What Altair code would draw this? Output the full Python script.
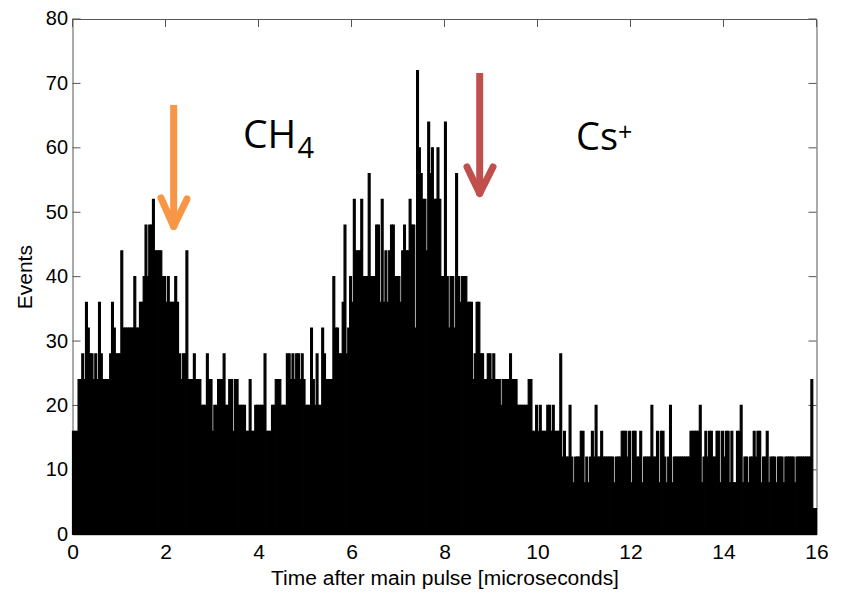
import altair as alt
import pandas as pd

# Histogram: counts per 0.04 microsecond bin, 25 bins per microsecond
BIN_US = 0.04
us_00 = [16, 16, 16, 24, 24, 28, 24, 36, 32, 28, 28, 24, 28, 24, 36, 28, 24, 24, 24, 24, 28, 36, 32, 28, 28]
us_01 = [28, 44, 32, 32, 32, 32, 32, 32, 40, 32, 32, 36, 36, 40, 48, 40, 48, 48, 52, 44, 44, 44, 44, 40, 40]
us_02 = [36, 40, 36, 36, 36, 40, 36, 28, 24, 28, 28, 44, 24, 24, 24, 28, 24, 24, 24, 20, 20, 20, 28, 24, 24]
us_03 = [16, 20, 20, 24, 24, 24, 28, 20, 20, 24, 24, 16, 24, 24, 20, 20, 20, 20, 16, 16, 24, 16, 16, 20, 20]
us_04 = [20, 20, 20, 28, 16, 16, 16, 20, 20, 24, 24, 24, 20, 20, 20, 28, 28, 24, 28, 24, 28, 28, 24, 28, 24]
us_05 = [20, 20, 20, 32, 24, 20, 28, 20, 20, 32, 28, 24, 24, 24, 24, 40, 32, 32, 28, 28, 36, 48, 28, 32, 40]
us_06 = [36, 52, 44, 44, 44, 52, 40, 40, 40, 56, 40, 40, 40, 48, 48, 36, 52, 36, 44, 36, 44, 48, 48, 40, 40]
us_07 = [40, 36, 44, 48, 44, 44, 52, 48, 48, 32, 72, 60, 56, 52, 52, 44, 64, 56, 60, 52, 52, 60, 52, 40, 40]
us_08 = [64, 40, 32, 40, 40, 32, 56, 40, 36, 40, 40, 40, 36, 36, 36, 24, 28, 36, 36, 28, 28, 24, 24, 28, 28]
us_09 = [24, 28, 24, 24, 24, 20, 24, 24, 24, 24, 28, 24, 24, 24, 20, 20, 20, 20, 20, 20, 24, 24, 16, 16, 20]
us_10 = [16, 20, 16, 16, 16, 20, 20, 16, 20, 16, 16, 16, 28, 12, 16, 12, 12, 20, 12, 8, 12, 12, 12, 16, 16]
us_11 = [8, 12, 8, 12, 16, 12, 20, 12, 12, 16, 12, 12, 12, 12, 12, 12, 8, 12, 12, 12, 16, 16, 16, 12, 16]
us_12 = [8, 16, 16, 12, 12, 16, 8, 12, 12, 12, 12, 20, 12, 12, 16, 8, 16, 16, 12, 8, 12, 20, 8, 12, 12]
us_13 = [12, 12, 12, 12, 12, 12, 12, 16, 16, 16, 16, 16, 20, 8, 12, 16, 12, 16, 16, 12, 12, 16, 16, 8, 16]
us_14 = [12, 16, 16, 8, 16, 8, 8, 16, 16, 20, 8, 12, 12, 8, 12, 12, 16, 12, 16, 16, 8, 12, 12, 16, 8]
us_15 = [12, 12, 12, 8, 12, 12, 12, 8, 12, 12, 12, 12, 12, 8, 12, 12, 12, 12, 12, 12, 12, 12, 24, 4, 4]

counts = (us_00 + us_01 + us_02 + us_03 + us_04 + us_05 + us_06 + us_07 +
          us_08 + us_09 + us_10 + us_11 + us_12 + us_13 + us_14 + us_15)

x_ticks = [0, 2, 4, 6, 8, 10, 12, 14, 16]
y_ticks = [0, 10, 20, 30, 40, 50, 60, 70, 80]

bars = pd.DataFrame({
    "start": [i * BIN_US for i in range(len(counts))],
    "end": [(i + 1) * BIN_US for i in range(len(counts))],
    "count": counts,
})

W, H = 744, 515.3
xs = alt.Scale(domain=[0, 16], nice=False, zero=False)
ys = alt.Scale(domain=[0, 80], nice=False)
AXF = "Liberation Sans"
TICK = "#555555"

x_axis = alt.Axis(values=x_ticks, title="Time after main pulse [microseconds]",
                  labelFlush=False, labelPadding=7, titlePadding=5)
y_axis = alt.Axis(values=y_ticks, title="Events", labelFlush=False,
                  labelPadding=5, titlePadding=10, labelFontSize=20)


def X(field):
    return alt.X(field, scale=xs, axis=x_axis)


def Y(field):
    return alt.Y(field, scale=ys, axis=y_axis)


bar_layer = alt.Chart(bars).mark_rect(color="black", stroke="black", strokeWidth=1.2).encode(
    x=X("start:Q"), x2="end:Q",
    y=Y("count:Q"), y2=alt.datum(0),
)

xt = pd.DataFrame({"v": x_ticks})
yt = pd.DataFrame({"v": y_ticks})

tick_bottom = alt.Chart(xt).mark_rule(color=TICK).encode(
    x=X("v:Q"), y=alt.value(H), y2=alt.value(H - 8))
tick_top = alt.Chart(xt).mark_rule(color=TICK).encode(
    x=X("v:Q"), y=alt.value(0), y2=alt.value(8))
tick_left = alt.Chart(yt).mark_rule(color=TICK).encode(
    y=Y("v:Q"), x=alt.value(0), x2=alt.value(8))
tick_right = alt.Chart(yt).mark_rule(color=TICK).encode(
    y=Y("v:Q"), x=alt.value(W), x2=alt.value(W - 8))

# Annotation arrows (in data coordinates)
shafts = pd.DataFrame({
    "x": [2.176, 8.757], "y": [66.65, 71.62],
    "x2": [2.176, 8.757], "y2": [47.79, 52.91],
    "c": ["CH4", "Cs"],
})
heads = pd.DataFrame({
    "x": [1.903, 2.462, 8.484, 9.043],
    "y": [52.21, 52.06, 57.03, 57.03],
    "x2": [2.176, 2.176, 8.757, 8.757],
    "y2": [47.79, 47.79, 52.91, 52.91],
    "c": ["CH4", "CH4", "Cs", "Cs"],
})
arrow_colors = alt.Scale(domain=["CH4", "Cs"], range=["#F79646", "#C0504D"])

shaft_layer = alt.Chart(shafts).mark_rule(strokeWidth=7, strokeCap="butt").encode(
    x=X("x:Q"), x2="x2:Q", y=Y("y:Q"), y2="y2:Q",
    color=alt.Color("c:N", scale=arrow_colors, legend=None))
head_layer = alt.Chart(heads).mark_rule(strokeWidth=7, strokeCap="round").encode(
    x=X("x:Q"), x2="x2:Q", y=Y("y:Q"), y2="y2:Q",
    color=alt.Color("c:N", scale=arrow_colors, legend=None))

ANF = "Open Sans"
ch_text = pd.DataFrame({"x": [3.667], "y": [59.93], "t": ["CH"]})
cs_text = pd.DataFrame({"x": [10.83], "y": [59.66], "t": ["Cs"]})
sub_text = pd.DataFrame({"x": [4.838], "y": [58.42], "t": ["4"]})
sup_text = pd.DataFrame({"x": [11.73], "y": [61.1], "t": ["+"]})


def text_layer(df, size):
    return alt.Chart(df).mark_text(
        font=ANF, fontSize=size, align="left", baseline="alphabetic", color="black").encode(
        x=X("x:Q"), y=Y("y:Q"), text="t:N")


chart = alt.layer(
    tick_bottom, tick_top, tick_left, tick_right, bar_layer,
    shaft_layer, head_layer,
    text_layer(ch_text, 39), text_layer(cs_text, 38),
    text_layer(sub_text, 29), text_layer(sup_text, 25),
).properties(
    width=W, height=H,
    autosize=alt.AutoSizeParams(type="none"),
    padding={"left": 64.5, "top": 11, "right": 12, "bottom": 57},
).configure_view(
    stroke=TICK, strokeWidth=1,
).configure_axis(
    domain=False, ticks=False, grid=False,
    labelFont=AXF, labelFontSize=21, labelColor="black",
    titleFont=AXF, titleFontSize=21, titleFontWeight="normal", titleColor="black",
)

chart.save("out.html", embed_options={"renderer": "svg", "actions": False})
